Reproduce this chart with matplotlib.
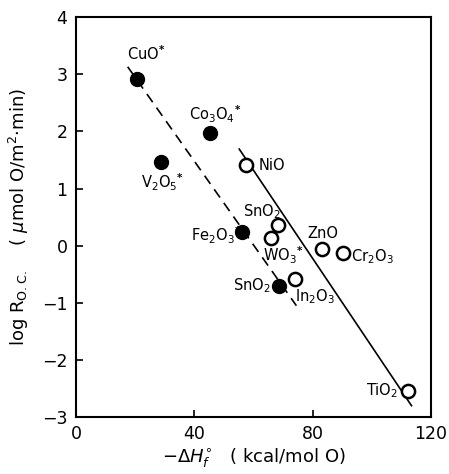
import matplotlib.pyplot as plt
import matplotlib as mpl

mpl.rcParams.update({
    'font.family': ['DejaVu Sans'],
    'mathtext.fontset': 'dejavusans',
})

# filled circles (dashed line group)
filled_names = ['CuO', 'Co$_3$O$_4$', 'V$_2$O$_5$', 'Fe$_2$O$_3$', 'SnO$_2$']
filled_star = [True, True, True, True, False]
filled_x = [20.5, 45.4, 28.7, 56.0, 68.7]
filled_y = [2.92, 1.97, 1.46, 0.24, -0.70]

# open circles (solid line group)
open_names = ['NiO', 'SnO$_2$', 'WO$_3$', 'ZnO', 'Cr$_2$O$_3$', 'In$_2$O$_3$', 'TiO$_2$']
open_star = [False, False, True, False, False, False, False]
open_x = [57.4, 68.3, 65.8, 83.0, 90.3, 74.0, 112.3]
open_y = [1.42, 0.36, 0.13, -0.06, -0.12, -0.59, -2.54]

# label positions (data coords) for each point
filled_lab_x = [23.9, 47.0, 29.4, 47.5, 59.4]
filled_lab_y = [3.36, 2.30, 1.11, 0.19, -0.70]
open_lab_x = [66.1, 62.7, 70.0, 83.4, 100.0, 80.7, 103.3]
open_lab_y = [1.41, 0.60, -0.16, 0.22, -0.20, -0.89, -2.54]

# fitted lines
dash_x = [17.5, 74.5]
dash_y = [3.13, -1.05]
solid_x = [55.2, 113.4]
solid_y = [1.69, -2.80]

fig = plt.figure(figsize=(4.49, 4.74), dpi=100)
ax = fig.add_axes([0.169, 0.12, 0.791, 0.844])

ax.plot(dash_x, dash_y, color='black', lw=1.2, ls=(0, (6, 4)))
ax.plot(solid_x, solid_y, color='black', lw=1.2)

ax.plot(filled_x, filled_y, 'o', ms=10, color='black', zorder=3)
ax.plot(open_x, open_y, 'o', ms=9.5, mfc='white', mec='black', mew=1.8, zorder=3)


def lab(name, star):
    return name + (r'$^{\mathbf{*}}$' if star else '')


for n, s, lx, ly in zip(filled_names, filled_star, filled_lab_x, filled_lab_y):
    ax.text(lx, ly, lab(n, s), ha='center', va='center', fontsize=10.5)
for n, s, lx, ly in zip(open_names, open_star, open_lab_x, open_lab_y):
    ax.text(lx, ly, lab(n, s), ha='center', va='center', fontsize=10.5)

ax.set_xlim(0, 120)
ax.set_ylim(-3, 4)
ax.set_xticks([0, 40, 80, 120])
ax.set_yticks([-3, -2, -1, 0, 1, 2, 3, 4])
ax.tick_params(direction='in', length=5, width=1.2, labelsize=12.5, pad=6)
for sp in ax.spines.values():
    sp.set_linewidth(1.5)

ax.set_xlabel(r'$-\Delta H_f^{\circ}$   ( kcal/mol O)', fontsize=13, labelpad=2)
ax.set_ylabel(r'log R$_{\mathrm{O.C.}}$    ( $\mu$mol O/m$^2$$\cdot$min)', fontsize=13, labelpad=8)

fig.savefig('out.png', dpi=100)
